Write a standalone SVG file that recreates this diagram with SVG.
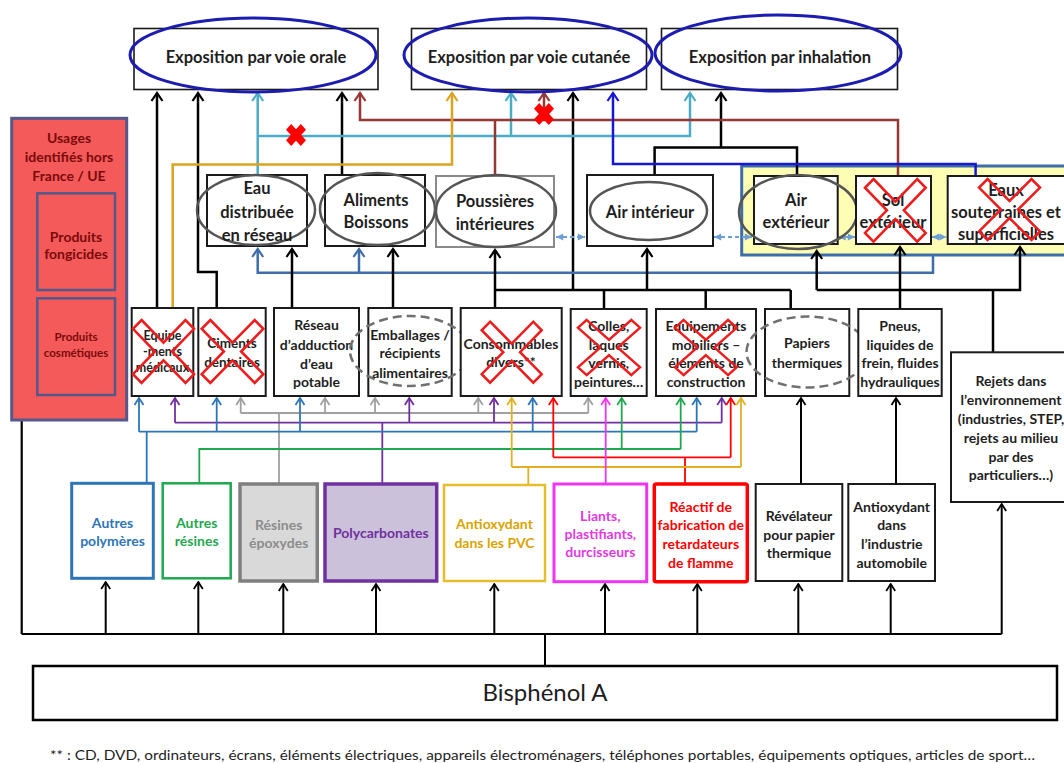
<svg xmlns="http://www.w3.org/2000/svg" width="1064" height="763" viewBox="0 0 1064 763">
<style>
.t{font-family:Lato,'Liberation Sans',sans-serif;font-weight:700;text-anchor:middle;fill:#1e1e1e}
.tr{font-family:Lato,'Liberation Sans',sans-serif;font-weight:400;fill:#1e1e1e}
.bx{fill:#fff;stroke:#1a1a1a;stroke-width:2}
.top{fill:#fff;stroke:#1a1a1a;stroke-width:1.6}
.bel{fill:none;stroke:#1c1cb0;stroke-width:3}
.gel{fill:none;stroke:#555;stroke-width:2.5}
.del{fill:none;stroke:#707070;stroke-width:2.5;stroke-dasharray:9 5}
.xo{fill:none;stroke:#ee1c1c;stroke-width:4.2}
.xs{fill:#ff0000}
.c{fill:none;stroke-linejoin:miter}
</style>
<defs>
<path id="xshape" d="M14,0 L50,36 L86,0 L100,14 L64,50 L100,86 L86,100 L50,64 L14,100 L0,86 L36,50 L0,14 Z"/>
<path id="xsolid" d="M26,0 L50,24 L74,0 L100,26 L76,50 L100,74 L74,100 L50,76 L26,100 L0,74 L24,50 L0,26 Z"/>
<marker id="k" viewBox="0 0 14 14" refX="12" refY="7" markerWidth="14" markerHeight="14" orient="auto" markerUnits="userSpaceOnUse"><path d="M4,1.5 L12,7 L4,12.5" fill="none" stroke="#000" stroke-width="2.2"/></marker>
<marker id="k2" viewBox="0 0 12 12" refX="10.5" refY="6" markerWidth="12" markerHeight="12" orient="auto" markerUnits="userSpaceOnUse"><path d="M3.5,1.5 L10.5,6 L3.5,10.5" fill="none" stroke="#000" stroke-width="1.8"/></marker>
<marker id="cy" viewBox="0 0 14 14" refX="12" refY="7" markerWidth="14" markerHeight="14" orient="auto" markerUnits="userSpaceOnUse"><path d="M4,1.5 L12,7 L4,12.5" fill="none" stroke="#4bacc6" stroke-width="2.2"/></marker>
<marker id="br" viewBox="0 0 14 14" refX="12" refY="7" markerWidth="14" markerHeight="14" orient="auto" markerUnits="userSpaceOnUse"><path d="M4,1.5 L12,7 L4,12.5" fill="none" stroke="#953735" stroke-width="2.2"/></marker>
<marker id="go" viewBox="0 0 14 14" refX="12" refY="7" markerWidth="14" markerHeight="14" orient="auto" markerUnits="userSpaceOnUse"><path d="M4,1.5 L12,7 L4,12.5" fill="none" stroke="#d9a521" stroke-width="2.2"/></marker>
<marker id="db" viewBox="0 0 14 14" refX="12" refY="7" markerWidth="14" markerHeight="14" orient="auto" markerUnits="userSpaceOnUse"><path d="M4,1.5 L12,7 L4,12.5" fill="none" stroke="#1818d0" stroke-width="2.2"/></marker>
<marker id="sb" viewBox="0 0 14 14" refX="12" refY="7" markerWidth="14" markerHeight="14" orient="auto" markerUnits="userSpaceOnUse"><path d="M4,1.5 L12,7 L4,12.5" fill="none" stroke="#3e6eaa" stroke-width="2.2"/></marker>
<marker id="pb" viewBox="0 0 12 12" refX="10.5" refY="6" markerWidth="12" markerHeight="12" orient="auto" markerUnits="userSpaceOnUse"><path d="M3.5,1.5 L10.5,6 L3.5,10.5" fill="none" stroke="#2e75b6" stroke-width="1.8"/></marker>
<marker id="pu" viewBox="0 0 12 12" refX="10.5" refY="6" markerWidth="12" markerHeight="12" orient="auto" markerUnits="userSpaceOnUse"><path d="M3.5,1.5 L10.5,6 L3.5,10.5" fill="none" stroke="#7030a0" stroke-width="1.8"/></marker>
<marker id="gr" viewBox="0 0 12 12" refX="10.5" refY="6" markerWidth="12" markerHeight="12" orient="auto" markerUnits="userSpaceOnUse"><path d="M3.5,1.5 L10.5,6 L3.5,10.5" fill="none" stroke="#a0a0a0" stroke-width="1.8"/></marker>
<marker id="gn" viewBox="0 0 12 12" refX="10.5" refY="6" markerWidth="12" markerHeight="12" orient="auto" markerUnits="userSpaceOnUse"><path d="M3.5,1.5 L10.5,6 L3.5,10.5" fill="none" stroke="#1fa84f" stroke-width="1.8"/></marker>
<marker id="rd" viewBox="0 0 12 12" refX="10.5" refY="6" markerWidth="12" markerHeight="12" orient="auto" markerUnits="userSpaceOnUse"><path d="M3.5,1.5 L10.5,6 L3.5,10.5" fill="none" stroke="#ff0000" stroke-width="1.8"/></marker>
<marker id="ag" viewBox="0 0 12 12" refX="10.5" refY="6" markerWidth="12" markerHeight="12" orient="auto" markerUnits="userSpaceOnUse"><path d="M3.5,1.5 L10.5,6 L3.5,10.5" fill="none" stroke="#e0b020" stroke-width="1.8"/></marker>
<marker id="mg" viewBox="0 0 12 12" refX="10.5" refY="6" markerWidth="12" markerHeight="12" orient="auto" markerUnits="userSpaceOnUse"><path d="M3.5,1.5 L10.5,6 L3.5,10.5" fill="none" stroke="#f035f0" stroke-width="1.8"/></marker>
<marker id="lb" viewBox="0 0 10 10" refX="9" refY="5" markerWidth="9" markerHeight="9" orient="auto-start-reverse" markerUnits="userSpaceOnUse"><path d="M1,1 L9,5 L1,9 Z" fill="#6d9fd6"/></marker>
</defs>

<rect width="1064" height="763" fill="#fff"/>

<!-- yellow environment frame -->
<rect id="env-frame" x="741.7" y="166" width="330" height="89" fill="#fdfdb4" stroke="#3e6eaa" stroke-width="3"/>

<g id="connectors">
  <!-- top level -->
  <path class="c" stroke="#000" stroke-width="2.5" marker-end="url(#k)" d="M157,308 V93"/>
  <path class="c" stroke="#000" stroke-width="2.5" marker-end="url(#k)" d="M216.7,308 V272 H198 V93"/>
  <path class="c" stroke="#000" stroke-width="2.5" marker-end="url(#k)" d="M342,175 V93"/>
  <path class="c" stroke="#000" stroke-width="2.5" marker-end="url(#k)" d="M573,290 V93"/>
  <path class="c" stroke="#000" stroke-width="2.5" marker-end="url(#k)" d="M721,147.5 V93"/>
  <path class="c" stroke="#000" stroke-width="2.5" d="M654.6,175 V147.5 H797 V176"/>
  <path class="c" stroke="#4bacc6" stroke-width="2.5" marker-end="url(#cy)" d="M257.7,175 V93"/>
  <path class="c" stroke="#4bacc6" stroke-width="2.5" marker-end="url(#cy)" d="M257.7,136 H690 V93"/>
  <path class="c" stroke="#4bacc6" stroke-width="2.5" marker-end="url(#cy)" d="M511,136 V93"/>
  <path class="c" stroke="#953735" stroke-width="2.5" marker-end="url(#br)" d="M898,176 V120 H360 V93"/>
  <path class="c" stroke="#953735" stroke-width="2.5" d="M495,176 V120"/>
  <path class="c" stroke="#953735" stroke-width="2.5" marker-end="url(#br)" d="M544,120 V93"/>
  <path class="c" stroke="#d9a521" stroke-width="2.5" marker-end="url(#go)" d="M172.7,308 V164.6 H452 V93"/>
  <path class="c" stroke="#1818d0" stroke-width="2.5" marker-end="url(#db)" d="M975.6,176 V164 H613 V93"/>
  <use href="#xsolid" class="xs" transform="translate(286,124) scale(0.2,0.22)"/>
  <use href="#xsolid" class="xs" transform="translate(534,103) scale(0.2,0.22)"/>

  <!-- middle level -->
  <path class="c" stroke="#3e6eaa" stroke-width="2.5" marker-end="url(#sb)" d="M933,255 V272.7 H257.7 V249"/>
  <path class="c" stroke="#3e6eaa" stroke-width="2.5" marker-end="url(#sb)" d="M359,272.7 V249"/>
  <path class="c" stroke="#000" stroke-width="2.5" marker-end="url(#k)" d="M292,308 V249"/>
  <path class="c" stroke="#000" stroke-width="2.5" marker-end="url(#k)" d="M393,308 V249"/>
  <path class="c" stroke="#000" stroke-width="2.5" marker-end="url(#k)" d="M495,308 V250"/>
  <path class="c" stroke="#000" stroke-width="2.5" d="M495,290 H790.7 M604,309 V290 M705.7,309 V290 M790.7,309 V290"/>
  <path class="c" stroke="#000" stroke-width="2.5" marker-end="url(#k)" d="M647,290 V249"/>
  <path class="c" stroke="#000" stroke-width="2.5" marker-end="url(#k)" d="M816.7,290 V251"/>
  <path class="c" stroke="#000" stroke-width="2.5" marker-end="url(#k)" d="M816.7,290 H1020 V247"/>
  <path class="c" stroke="#000" stroke-width="2.5" marker-end="url(#k)" d="M900,309 V247"/>
  <path class="c" stroke="#000" stroke-width="2.5" d="M993,352 V290"/>
  <path class="c" stroke="#6d9fd6" stroke-width="2" stroke-dasharray="4 3" marker-start="url(#lb)" marker-end="url(#lb)" d="M556,237 H585"/>
  <path class="c" stroke="#6d9fd6" stroke-width="2" stroke-dasharray="4 3" marker-start="url(#lb)" marker-end="url(#lb)" d="M714,237 H752"/>
  <path class="c" stroke="#6d9fd6" stroke-width="2" stroke-dasharray="4 3" marker-start="url(#lb)" marker-end="url(#lb)" d="M838.5,237 H855"/>
  <path class="c" stroke="#6d9fd6" stroke-width="2" stroke-dasharray="4 3" marker-start="url(#lb)" marker-end="url(#lb)" d="M932,237 H946.5"/>

  <!-- product level -->
  <path class="c" stroke="#000" stroke-width="2" marker-end="url(#k2)" d="M801,484 V398"/>
  <path class="c" stroke="#000" stroke-width="2" marker-end="url(#k2)" d="M896,484 V398"/>

  <path class="c" stroke="#a0a0a0" stroke-width="1.8" d="M279,484 V413 M240.7,413 H588.3"/>
  <path class="c" stroke="#a0a0a0" stroke-width="1.8" marker-end="url(#gr)" d="M240.7,413 V398"/>
  <path class="c" stroke="#a0a0a0" stroke-width="1.8" marker-end="url(#gr)" d="M325,413 V398"/>
  <path class="c" stroke="#a0a0a0" stroke-width="1.8" marker-end="url(#gr)" d="M375,413 V398"/>
  <path class="c" stroke="#a0a0a0" stroke-width="1.8" marker-end="url(#gr)" d="M478.3,413 V398"/>
  <path class="c" stroke="#a0a0a0" stroke-width="1.8" marker-end="url(#gr)" d="M588.3,413 V398"/>

  <path class="c" stroke="#7030a0" stroke-width="1.8" d="M382.3,484 V422.7 M175,422.7 H721.7"/>
  <path class="c" stroke="#7030a0" stroke-width="1.8" marker-end="url(#pu)" d="M175,422.7 V398"/>
  <path class="c" stroke="#7030a0" stroke-width="1.8" marker-end="url(#pu)" d="M409.3,422.7 V398"/>
  <path class="c" stroke="#7030a0" stroke-width="1.8" marker-end="url(#pu)" d="M494,422.7 V398"/>
  <path class="c" stroke="#7030a0" stroke-width="1.8" marker-end="url(#pu)" d="M721.7,422.7 V398"/>

  <path class="c" stroke="#2e75b6" stroke-width="1.8" d="M146.7,483 V431.7 M139,431.7 H696.7"/>
  <path class="c" stroke="#2e75b6" stroke-width="1.8" marker-end="url(#pb)" d="M139,431.7 V398"/>
  <path class="c" stroke="#2e75b6" stroke-width="1.8" marker-end="url(#pb)" d="M216.7,431.7 V398"/>
  <path class="c" stroke="#2e75b6" stroke-width="1.8" marker-end="url(#pb)" d="M300,431.7 V398"/>
  <path class="c" stroke="#2e75b6" stroke-width="1.8" marker-end="url(#pb)" d="M532.7,431.7 V398"/>
  <path class="c" stroke="#2e75b6" stroke-width="1.8" marker-end="url(#pb)" d="M696.7,431.7 V398"/>

  <path class="c" stroke="#1fa84f" stroke-width="1.8" d="M199.3,483 V449 H680.7"/>
  <path class="c" stroke="#1fa84f" stroke-width="1.8" marker-end="url(#gn)" d="M621.7,449 V398"/>
  <path class="c" stroke="#1fa84f" stroke-width="1.8" marker-end="url(#gn)" d="M680.7,449 V398"/>

  <path class="c" stroke="#ff0000" stroke-width="1.8" d="M685,484 V457.3 M553.3,457.3 H730.7"/>
  <path class="c" stroke="#ff0000" stroke-width="1.8" marker-end="url(#rd)" d="M553.3,457.3 V398"/>
  <path class="c" stroke="#ff0000" stroke-width="1.8" marker-end="url(#rd)" d="M730.7,457.3 V398"/>

  <path class="c" stroke="#e0b020" stroke-width="1.8" d="M528.3,485 V467 M511.7,467 H741"/>
  <path class="c" stroke="#e0b020" stroke-width="1.8" marker-end="url(#ag)" d="M511.7,467 V398"/>
  <path class="c" stroke="#e0b020" stroke-width="1.8" marker-end="url(#ag)" d="M741,467 V398"/>

  <path class="c" stroke="#f035f0" stroke-width="1.8" marker-end="url(#mg)" d="M605.7,484 V398"/>

  <!-- bottom bus -->
  <path class="c" stroke="#000" stroke-width="2" d="M21.7,634 H1001.7 M545,634 V666"/>
  <path class="c" stroke="#000" stroke-width="2.2" marker-end="url(#k2)" d="M21.7,634 V255 H37"/>
  <path class="c" stroke="#000" stroke-width="2.2" marker-end="url(#k2)" d="M21.7,376.7 H37"/>
  <path class="c" stroke="#000" stroke-width="2" marker-end="url(#k2)" d="M105.7,634 V582"/>
  <path class="c" stroke="#000" stroke-width="2" marker-end="url(#k2)" d="M198.3,634 V582"/>
  <path class="c" stroke="#000" stroke-width="2" marker-end="url(#k2)" d="M283.3,634 V584"/>
  <path class="c" stroke="#000" stroke-width="2" marker-end="url(#k2)" d="M376,634 V584"/>
  <path class="c" stroke="#000" stroke-width="2" marker-end="url(#k2)" d="M494.3,634 V584"/>
  <path class="c" stroke="#000" stroke-width="2" marker-end="url(#k2)" d="M605,634 V584"/>
  <path class="c" stroke="#000" stroke-width="2" marker-end="url(#k2)" d="M697.3,634 V584"/>
  <path class="c" stroke="#000" stroke-width="2" marker-end="url(#k2)" d="M798.3,634 V584"/>
  <path class="c" stroke="#000" stroke-width="2" marker-end="url(#k2)" d="M890.7,634 V584"/>
  <path class="c" stroke="#000" stroke-width="2" marker-end="url(#k2)" d="M1001.7,634 V504"/>
</g>

<!-- top exposure nodes -->
<g id="n-orale">
  <rect class="top" x="134" y="28.5" width="244" height="61"/>
  <ellipse class="bel" cx="253" cy="55" rx="123" ry="37"/>
  <text class="t" x="256" y="63" font-size="16.5">Exposition par voie orale</text>
</g>
<g id="n-cutanee">
  <rect class="top" x="411.5" y="28.5" width="235" height="61"/>
  <ellipse class="bel" cx="528" cy="55" rx="124" ry="37"/>
  <text class="t" x="529" y="63" font-size="16.5">Exposition par voie cutanée</text>
</g>
<g id="n-inhalation">
  <rect class="top" x="661.5" y="28.5" width="236" height="61"/>
  <ellipse class="bel" cx="778" cy="53" rx="123" ry="38"/>
  <text class="t" x="780" y="63" font-size="16.5">Exposition par inhalation</text>
</g>

<!-- middle media nodes -->
<g id="n-eau">
  <rect class="bx" x="207" y="175" width="100" height="71"/>
  <ellipse class="gel" cx="256" cy="210" rx="59" ry="35"/>
  <text class="t" font-size="16.5"><tspan x="257" y="194">Eau</tspan><tspan x="257" y="217.5">distribuée</tspan><tspan x="257" y="240.5">en réseau</tspan></text>
</g>
<g id="n-aliments">
  <rect class="bx" x="325" y="175" width="100" height="71"/>
  <ellipse class="gel" cx="377.5" cy="209" rx="57.5" ry="36"/>
  <text class="t" font-size="16.5"><tspan x="376" y="206">Aliments</tspan><tspan x="376" y="228">Boissons</tspan></text>
</g>
<g id="n-poussieres">
  <rect x="436" y="176" width="118" height="71" fill="#fff" stroke="#8a8a8a" stroke-width="2"/>
  <ellipse class="gel" cx="496" cy="211" rx="60" ry="36"/>
  <text class="t" font-size="16.5"><tspan x="495" y="207">Poussières</tspan><tspan x="495" y="230">intérieures</tspan></text>
</g>
<g id="n-airint">
  <rect class="bx" x="587" y="175" width="126" height="71"/>
  <ellipse class="gel" cx="648.5" cy="211" rx="58.5" ry="29"/>
  <text class="t" x="650" y="217.5" font-size="16.5">Air intérieur</text>
</g>
<g id="n-airext">
  <rect class="bx" x="754" y="176" width="83.7" height="68"/>
  <ellipse class="gel" cx="798" cy="212" rx="59" ry="37"/>
  <text class="t" font-size="16.5"><tspan x="796" y="206">Air</tspan><tspan x="796" y="228">extérieur</tspan></text>
</g>
<g id="n-sol">
  <rect class="bx" x="856" y="176" width="75" height="68"/>
  <text class="t" font-size="16.5"><tspan x="893" y="206">Sol</tspan><tspan x="893" y="228">extérieur</tspan></text>
  <use href="#xshape" class="xo" transform="translate(865,179) scale(0.607,0.627)"/>
</g>
<g id="n-eaux">
  <rect class="bx" x="947.7" y="176" width="130" height="68"/>
  <text class="t" font-size="16.5"><tspan x="1006" y="196">Eaux</tspan><tspan x="1006" y="218">souterraines et</tspan><tspan x="1006" y="240">superficielles</tspan></text>
  <use href="#xshape" class="xo" transform="translate(979,179) scale(0.61,0.61)"/>
</g>

<!-- usages -->
<g id="n-usages">
  <rect x="11.7" y="118.3" width="115" height="301.7" fill="#f55a5a" stroke="#55588a" stroke-width="3"/>
  <text class="t" font-size="14" fill="#7a0a0a" style="fill:#7a0a0a"><tspan x="69" y="143">Usages</tspan><tspan x="69" y="161.5">identifiés hors</tspan><tspan x="69" y="180.5">France / UE</tspan></text>
</g>
<g id="n-fongicides">
  <rect x="37.3" y="193.3" width="77.7" height="96.7" fill="#f55a5a" stroke="#55588a" stroke-width="2.5"/>
  <text class="t" font-size="14" style="fill:#7a0a0a"><tspan x="76" y="241.5">Produits</tspan><tspan x="76" y="259">fongicides</tspan></text>
</g>
<g id="n-cosmetiques">
  <rect x="37.3" y="298.3" width="77.7" height="96.7" fill="#f55a5a" stroke="#55588a" stroke-width="2.5"/>
  <text class="t" font-size="11.5" style="fill:#7a0a0a"><tspan x="76" y="340.5">Produits</tspan><tspan x="76" y="356.5">cosmétiques</tspan></text>
</g>

<!-- product nodes -->
<g id="n-equipmed">
  <rect class="bx" x="131.7" y="308" width="61.6" height="88"/>
  <text class="t" font-size="12.5"><tspan x="162.5" y="339.5">Equipe</tspan><tspan x="162.5" y="356">-ments</tspan><tspan x="162.5" y="372">médicaux</tspan></text>
  <use href="#xshape" class="xo" transform="translate(133,320) scale(0.61,0.63)"/>
</g>
<g id="n-ciments">
  <rect class="bx" x="198.3" y="308" width="67.4" height="88"/>
  <text class="t" font-size="13.5"><tspan x="232" y="347.5">Ciments</tspan><tspan x="232" y="366.5">dentaires</tspan></text>
  <use href="#xshape" class="xo" transform="translate(201.7,320) scale(0.616,0.63)"/>
</g>
<g id="n-reseau">
  <rect class="bx" x="274" y="308" width="85" height="88"/>
  <text class="t" font-size="14"><tspan x="316.5" y="330">Réseau</tspan><tspan x="316.5" y="349.5">d’adduction</tspan><tspan x="316.5" y="368.5">d’eau</tspan><tspan x="316.5" y="387">potable</tspan></text>
</g>
<g id="n-emballages">
  <rect class="bx" x="368.3" y="308" width="83.4" height="88"/>
  <ellipse class="del" cx="410" cy="351" rx="60" ry="35"/>
  <text class="t" font-size="14"><tspan x="410" y="340">Emballages /</tspan><tspan x="410" y="358">récipients</tspan><tspan x="410" y="377.5">alimentaires</tspan></text>
</g>
<g id="n-consommables">
  <rect class="bx" x="460.7" y="308" width="101" height="88"/>
  <text class="t" font-size="14"><tspan x="511" y="348.5">Consommables</tspan><tspan x="511" y="367">divers**</tspan></text>
  <use href="#xshape" class="xo" transform="translate(481.7,321.7) scale(0.6,0.61)"/>
</g>
<g id="n-colles">
  <rect class="bx" x="570.7" y="309" width="76" height="87"/>
  <text class="t" font-size="14"><tspan x="608.7" y="330.5">Colles,</tspan><tspan x="608.7" y="349.5">laques</tspan><tspan x="608.7" y="368">vernis,</tspan><tspan x="608.7" y="387">peintures…</tspan></text>
  <use href="#xshape" class="xo" transform="translate(578,320) scale(0.62,0.55)"/>
</g>
<g id="n-equipmob">
  <rect class="bx" x="656" y="309" width="100" height="87"/>
  <text class="t" font-size="14"><tspan x="706" y="330.5">Equipements</tspan><tspan x="706" y="349.5">mobiliers –</tspan><tspan x="706" y="368">éléments de</tspan><tspan x="706" y="387">construction</tspan></text>
  <use href="#xshape" class="xo" transform="translate(675,320) scale(0.617,0.55)"/>
</g>
<g id="n-papiers">
  <rect class="bx" x="765" y="309" width="84.3" height="87"/>
  <ellipse class="del" cx="807.5" cy="352" rx="61" ry="35.5"/>
  <text class="t" font-size="14"><tspan x="807" y="348">Papiers</tspan><tspan x="807" y="367.5">thermiques</tspan></text>
</g>
<g id="n-pneus">
  <rect class="bx" x="858.3" y="309" width="83.4" height="87"/>
  <text class="t" font-size="14"><tspan x="900" y="330.5">Pneus,</tspan><tspan x="900" y="349.5">liquides de</tspan><tspan x="900" y="368">frein, fluides</tspan><tspan x="900" y="387">hydrauliques</tspan></text>
</g>
<g id="n-rejets">
  <rect class="bx" x="951" y="352.3" width="120" height="149.7"/>
  <text class="t" font-size="14"><tspan x="1011" y="386">Rejets  dans</tspan><tspan x="1011" y="405">l’environnement</tspan><tspan x="1011" y="424">(industries, STEP,</tspan><tspan x="1011" y="443">rejets au milieu</tspan><tspan x="1011" y="461.5">par des</tspan><tspan x="1011" y="480">particuliers…)</tspan></text>
</g>

<!-- source nodes -->
<g id="n-autrespoly">
  <rect x="71.7" y="483.3" width="81.6" height="95" fill="#fff" stroke="#2e75b6" stroke-width="3"/>
  <text class="t" font-size="14" style="fill:#2e75b6"><tspan x="112.5" y="528">Autres</tspan><tspan x="112.5" y="546">polymères</tspan></text>
</g>
<g id="n-autresres">
  <rect x="162.7" y="483.3" width="68" height="95" fill="#fff" stroke="#1fa84f" stroke-width="2.5"/>
  <text class="t" font-size="14" style="fill:#1fa84f"><tspan x="196.7" y="528">Autres</tspan><tspan x="196.7" y="546">résines</tspan></text>
</g>
<g id="n-epoxy">
  <rect x="240" y="484" width="77.3" height="97" fill="#d9d9d9" stroke="#7f7f7f" stroke-width="3.5"/>
  <text class="t" font-size="14" style="fill:#8c8c8c"><tspan x="278.7" y="530">Résines</tspan><tspan x="278.7" y="548">époxydes</tspan></text>
</g>
<g id="n-polycarb">
  <rect x="325" y="484" width="111.7" height="97" fill="#ccc1da" stroke="#7030a0" stroke-width="3.5"/>
  <text class="t" x="380.8" y="538" font-size="14" style="fill:#7030a0">Polycarbonates</text>
</g>
<g id="n-antipvc">
  <rect x="444" y="485" width="101" height="96" fill="#fff" stroke="#e6bd2a" stroke-width="2.5"/>
  <text class="t" font-size="14" style="fill:#d9a400"><tspan x="494.5" y="529">Antioxydant</tspan><tspan x="494.5" y="548">dans les PVC</tspan></text>
</g>
<g id="n-liants">
  <rect x="554" y="484" width="92.7" height="97.7" fill="#fff" stroke="#f035f0" stroke-width="3"/>
  <text class="t" font-size="14" style="fill:#e03ae0"><tspan x="600.3" y="521">Liants,</tspan><tspan x="600.3" y="539">plastifiants,</tspan><tspan x="600.3" y="557">durcisseurs</tspan></text>
</g>
<g id="n-reactif">
  <rect x="654.3" y="484" width="93" height="97.7" rx="2" fill="#fff" stroke="#ff0000" stroke-width="3.5"/>
  <text class="t" font-size="14" style="fill:#ff0000"><tspan x="700.8" y="511.5">Réactif de</tspan><tspan x="700.8" y="530">fabrication de</tspan><tspan x="700.8" y="549">retardateurs</tspan><tspan x="700.8" y="568">de flamme</tspan></text>
</g>
<g id="n-revelateur">
  <rect class="bx" x="755.7" y="484" width="86.6" height="97"/>
  <text class="t" font-size="14"><tspan x="799" y="521">Révélateur</tspan><tspan x="799" y="539.5">pour papier</tspan><tspan x="799" y="558">thermique</tspan></text>
</g>
<g id="n-antiauto">
  <rect class="bx" x="848.3" y="484" width="86.7" height="97"/>
  <text class="t" font-size="14"><tspan x="891.7" y="511.5">Antioxydant</tspan><tspan x="891.7" y="530">dans</tspan><tspan x="891.7" y="549">l’industrie</tspan><tspan x="891.7" y="568">automobile</tspan></text>
</g>

<!-- Bisphenol A -->
<g id="n-bpa">
  <rect x="33" y="666" width="1024" height="54" fill="#fff" stroke="#000" stroke-width="2.5"/>
  <text class="tr" x="545" y="701" font-size="24" text-anchor="middle">Bisphénol A</text>
</g>

<text class="tr" x="50" y="760" font-size="13" textLength="985" lengthAdjust="spacingAndGlyphs">** : CD, DVD, ordinateurs, écrans, éléments électriques,  appareils électroménagers, téléphones portables, équipements optiques, articles de sport…</text>
</svg>
